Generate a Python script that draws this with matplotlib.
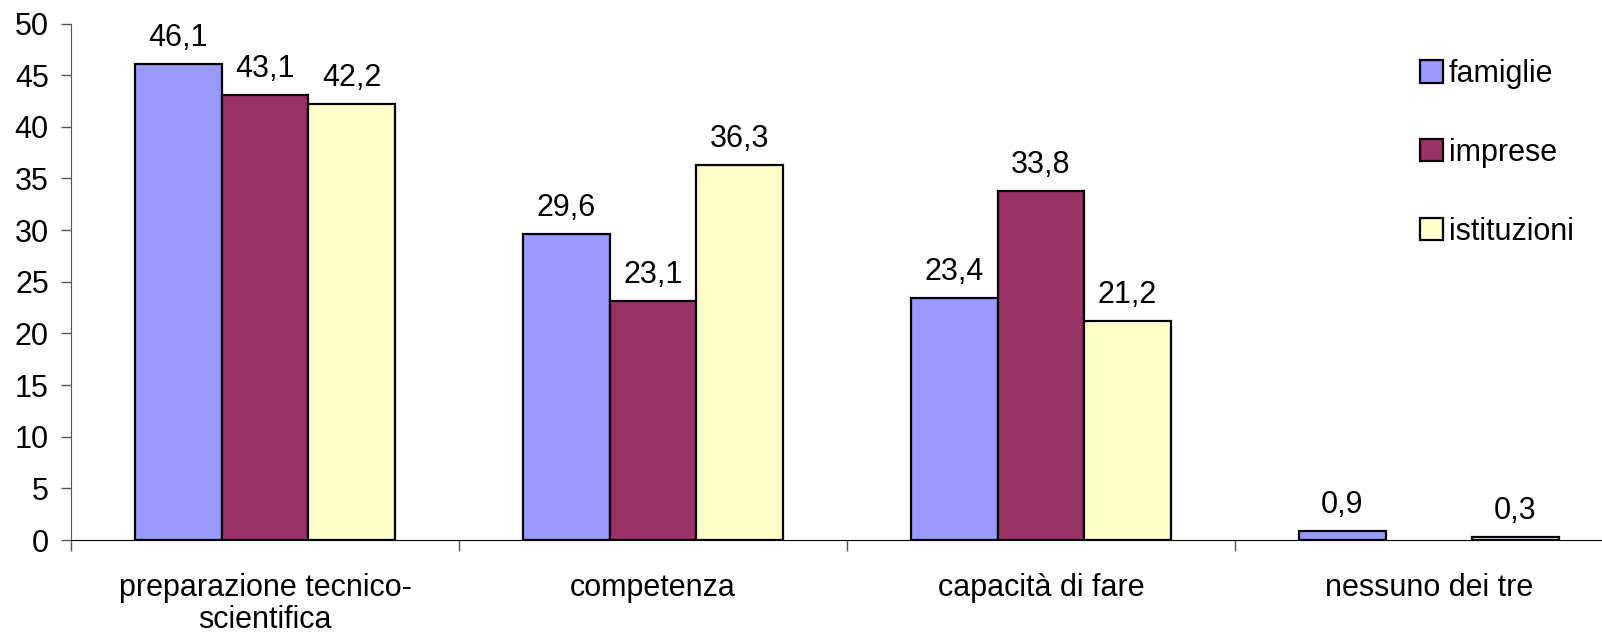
import numpy as np
import matplotlib
matplotlib.use("Agg")
import matplotlib.pyplot as plt
from matplotlib.patches import Patch
from matplotlib.ticker import FixedLocator

plt.rcParams['font.family'] = ['Liberation Sans', 'DejaVu Sans']

categories = ["preparazione tecnico-\nscientifica", "competenza", "capacità di fare", "nessuno dei tre"]
series_names = ["famiglie", "imprese", "istituzioni"]
famiglie = [46.1, 29.6, 23.4, 0.9]
imprese = [43.1, 23.1, 33.8, np.nan]
istituzioni = [42.2, 36.3, 21.2, 0.3]
y_ticks = [0, 5, 10, 15, 20, 25, 30, 35, 40, 45, 50]

colors = ["#9999FF", "#993366", "#FFFFCC"]
series = [famiglie, imprese, istituzioni]

fig = plt.figure(figsize=(16.02, 6.33), dpi=100)
ax = fig.add_axes([71 / 1602, 93 / 633, 1552 / 1602, 516.5 / 633])

x = np.arange(len(categories))
bw = 0.223
fs = 22

for i, (vals, col) in enumerate(zip(series, colors)):
    pos = x + (i - 1) * bw
    v = np.array(vals, dtype=float)
    ok = ~np.isnan(v)
    ax.bar(pos[ok], v[ok], width=bw, color=col, edgecolor="black", linewidth=1.6,
           label=series_names[i])
    for px, val in zip(pos[ok], v[ok]):
        ax.annotate(f"{val:.1f}".replace(".", ","), (px, val), xytext=(0, 8),
                    textcoords="offset points", ha="center", va="bottom", fontsize=fs)

ax.set_xlim(-0.5, len(categories) - 0.5)
ax.set_ylim(0, 50)
ax.set_yticks(y_ticks)
ax.set_yticklabels([str(t) for t in y_ticks], fontsize=fs)
ax.tick_params(axis="y", length=7, width=1, pad=9, color="#555555")

ax.set_xticks(x)
ax.set_xticklabels(categories, fontsize=fs, linespacing=1.08)
ax.xaxis.set_minor_locator(FixedLocator(np.arange(-0.5, len(categories), 1.0)))
ax.tick_params(axis="x", which="major", length=0, pad=24)
ax.tick_params(axis="x", which="minor", length=8, width=1, color="#555555")

for s in ["top", "right"]:
    ax.spines[s].set_visible(False)
ax.spines["left"].set_color("#555555")
ax.spines["bottom"].set_color("black")

handles = [Patch(facecolor=c, edgecolor="black", linewidth=1.6) for c in colors]
fig.legend(handles, series_names, loc="upper left", bbox_to_anchor=(1420 / 1602, 1 - 59 / 633),
           frameon=False, fontsize=fs, handlelength=0.75, handleheight=0.75, handletextpad=0.2,
           labelspacing=1.6, borderaxespad=0, borderpad=0)

fig.savefig("out.png", dpi=100)
